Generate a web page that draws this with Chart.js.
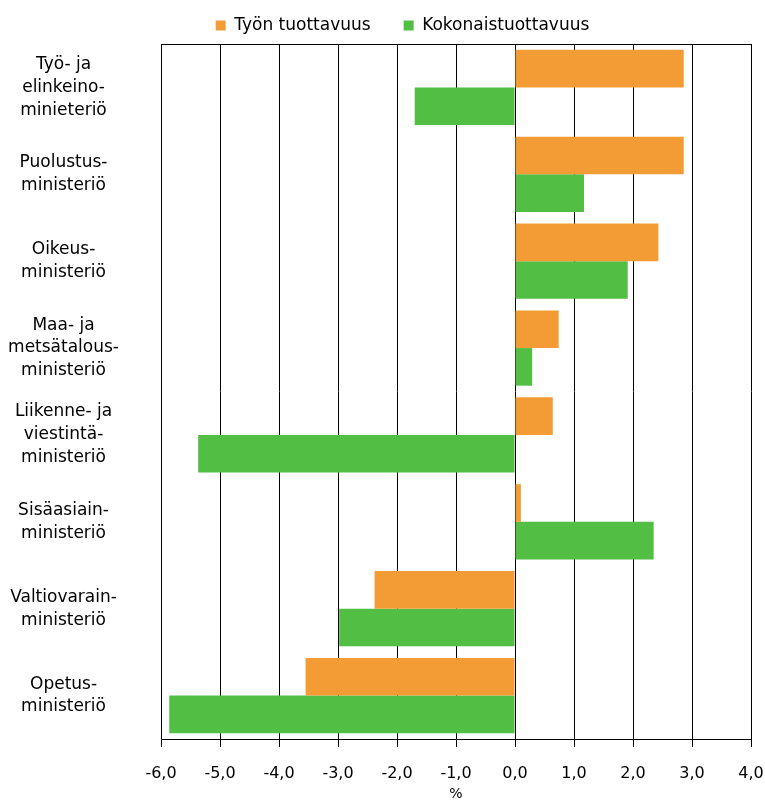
<!DOCTYPE html>
<html lang="fi">
<head>
<meta charset="utf-8">
<title>Tuottavuus ministeriöittäin</title>
<script src="https://cdn.jsdelivr.net/npm/chart.js@4.4.1/dist/chart.umd.min.js"></script>
<style>
  html, body { margin: 0; padding: 0; background: #fff; overflow: hidden; }
  canvas { display: block; }
</style>
</head>
<body>
<canvas id="myChart" width="765" height="803"></canvas>
<script>
// ministeriöt (ylhäältä alas)
const ministeriot = [
    ['Työ- ja', 'elinkeino-', 'minieteriö'],
    ['Puolustus-', 'ministeriö'],
    ['Oikeus-', 'ministeriö'],
    ['Maa- ja', 'metsätalous-', 'ministeriö'],
    ['Liikenne- ja', 'viestintä-', 'ministeriö'],
    ['Sisäasiain-', 'ministeriö'],
    ['Valtiovarain-', 'ministeriö'],
    ['Opetus-', 'ministeriö']
];
const tyonTuottavuus = [2.86, 2.86, 2.43, 0.74, 0.64, 0.1, -2.38, -3.55];
const kokonaistuottavuus = [-1.7, 1.17, 1.91, 0.29, -5.37, 2.35, -2.98, -5.86];
const sarjat = ['Työn tuottavuus', 'Kokonaistuottavuus'];
const xMin = -6, xMax = 4, xStep = 1;

const fontti = 'DejaVu Sans, Verdana, sans-serif';

// yläreunan viiva piirtoalueelle (muut reunat tulevat akseleista)
const ylareuna = {
    id: 'ylareuna',
    afterDraw(chart) {
        const a = chart.chartArea;
        const ctx = chart.ctx;
        ctx.save();
        ctx.strokeStyle = '#000';
        ctx.lineWidth = 1;
        ctx.beginPath();
        ctx.moveTo(a.left, a.top + 0.5);
        ctx.lineTo(a.right + 1, a.top + 0.5);
        ctx.stroke();
        ctx.restore();
    }
};

// selite hieman oikealle, kuten alkuperäisessä
const siirraSelite = {
    id: 'siirraSelite',
    afterLayout(chart) {
        if (chart.legend) {
            chart.legend.left = 54;
        }
    }
};

function piirraKaavio() {
    const ctx = document.getElementById('myChart').getContext('2d');
    new Chart(ctx, {
        type: 'bar',
        data: {
            labels: ministeriot,
            datasets: [{
                label: sarjat[0],
                data: tyonTuottavuus,
                backgroundColor: '#F39C35',
                borderWidth: 0
            }, {
                label: sarjat[1],
                data: kokonaistuottavuus,
                backgroundColor: '#52BE44',
                borderWidth: 0
            }]
        },
        options: {
            indexAxis: 'y',
            responsive: false,
            devicePixelRatio: 1,
            animation: false,
            categoryPercentage: 0.866,
            barPercentage: 1.0,
            layout: { padding: { top: -16, right: 14, bottom: 0, left: 0 } },
            scales: {
                x: {
                    min: xMin,
                    max: xMax,
                    afterFit: (scale) => {
                        scale.height = 64;
                        scale.paddingLeft = 0;
                        scale.paddingRight = 0;
                    },
                    ticks: {
                        stepSize: xStep,
                        color: '#000',
                        padding: 17,
                        font: { family: fontti, size: 16 },
                        callback: (v) => v.toFixed(1).replace('.', ',')
                    },
                    grid: {
                        color: '#000',
                        lineWidth: 1,
                        drawTicks: true,
                        tickLength: 8
                    },
                    border: { display: true, color: '#000' },
                    title: {
                        display: true,
                        text: '%',
                        color: '#000',
                        padding: 0,
                        font: { family: fontti, size: 14 }
                    }
                },
                y: {
                    afterFit: (scale) => {
                        scale.width = 161;
                        scale.paddingTop = 0;
                        scale.paddingBottom = 0;
                    },
                    ticks: {
                        color: '#000',
                        crossAlign: 'center',
                        padding: 42,
                        font: { family: fontti, size: 17, lineHeight: 1.35 }
                    },
                    grid: { display: false, drawTicks: false },
                    border: { display: true, color: '#000' }
                }
            },
            plugins: {
                legend: {
                    position: 'top',
                    labels: {
                        color: '#000',
                        boxWidth: 10,
                        boxHeight: 10,
                        padding: 33,
                        font: { family: fontti, size: 17 }
                    }
                },
                tooltip: { enabled: false }
            }
        },
        plugins: [ylareuna, siirraSelite]
    });
}

document.addEventListener('DOMContentLoaded', () => {
    piirraKaavio();
});
</script>
</body>
</html>
